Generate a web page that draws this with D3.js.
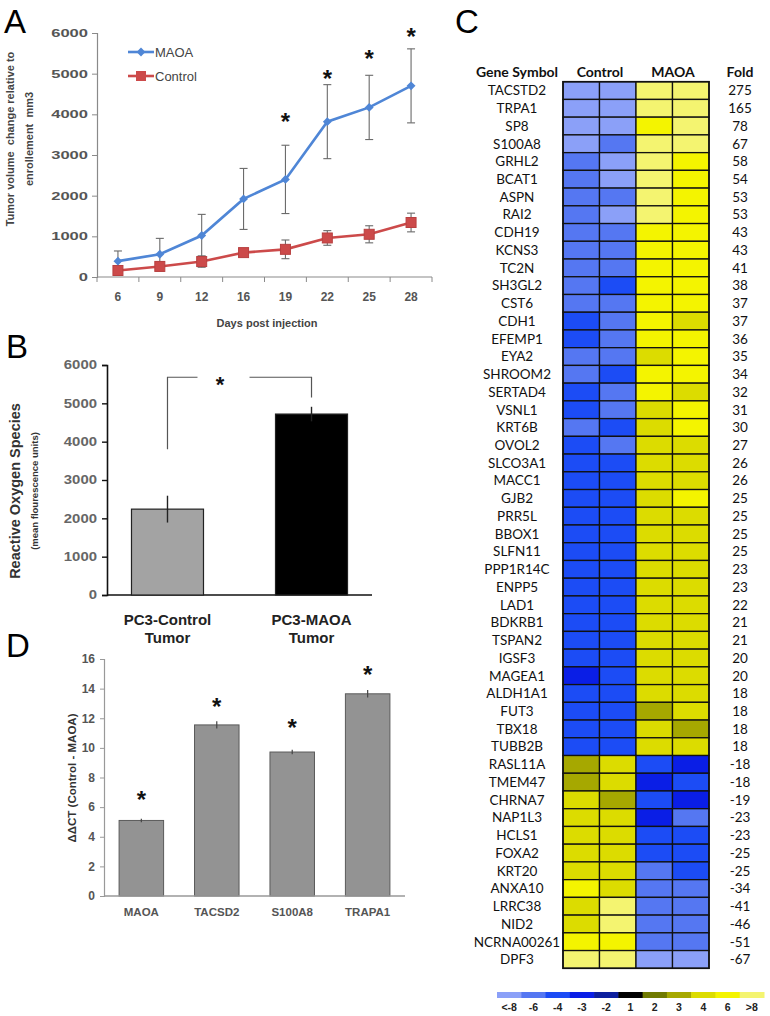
<!DOCTYPE html>
<html><head><meta charset="utf-8">
<script src="https://cdn.jsdelivr.net/npm/d3@7"></script>
<style>
body{margin:0;background:#fff;}
svg{display:block;}
</style></head>
<body>
<svg id="fig" width="770" height="1016"></svg>
<script>
// ---------- Panel A data ----------
const days = ["6","9","12","16","19","22","25","28"];
const maoaVol = [390,560,1020,1920,2400,3820,4170,4700];
const maoaErr = [250,390,520,750,840,910,790,910];
const ctrlVol = [160,260,380,600,680,960,1050,1340];
const ctrlErr = [90,110,140,90,230,180,210,230];
const starDaysA = ["19","22","25","28"];
const starValsA = [3950,5000,5500,6020];
const yTicksA = [0,1000,2000,3000,4000,5000,6000];

// ---------- Panel B data ----------
const rosGroups = ["PC3-Control","PC3-MAOA"];
const rosVals = [2240,4720];
const rosErr = [350,190];
const yTicksB = [0,1000,2000,3000,4000,5000,6000];

// ---------- Panel D data ----------
const qGenes = ["MAOA","TACSD2","S100A8","TRAPA1"];
const ddct = [5.1,11.55,9.72,13.65];
const ddctErr = [0.12,0.25,0.15,0.25];
const starValsD = [6.8,13.1,11.7,15.3];
const yTicksD = [0,2,4,6,8,10,12,14,16];

// ---------- Panel C data ----------
const genes = ["TACSTD2","TRPA1","SP8","S100A8","GRHL2","BCAT1","ASPN","RAI2","CDH19","KCNS3",
"TC2N","SH3GL2","CST6","CDH1","EFEMP1","EYA2","SHROOM2","SERTAD4","VSNL1","KRT6B",
"OVOL2","SLCO3A1","MACC1","GJB2","PRR5L","BBOX1","SLFN11","PPP1R14C","ENPP5","LAD1",
"BDKRB1","TSPAN2","IGSF3","MAGEA1","ALDH1A1","FUT3","TBX18","TUBB2B",
"RASL11A","TMEM47","CHRNA7","NAP1L3","HCLS1","FOXA2","KRT20","ANXA10","LRRC38","NID2","NCRNA00261","DPF3"];
const folds = [275,165,78,67,58,54,53,53,43,43,41,38,37,37,36,35,34,32,31,30,27,26,26,25,25,25,25,23,23,22,21,21,20,20,18,18,18,18,
-18,-18,-19,-23,-23,-25,-25,-34,-41,-46,-51,-67];
const control1 = [-8,-8,-8,-8,-6,-6,-6,-6,-6,-6, -6,-6,-6,-4,-4,-6,-6,-4,-4,-6, -4,-4,-4,-4,-4,-4,-4,-4,-4,-4, -4,-4,-4,-3,-4,-4,-4,-4, 3,3,4,4,4,4,4,6,4,4,6,8];
const control2 = [-8,-8,-8,-6,-8,-8,-6,-8,-6,-6, -6,-4,-6,-6,-6,-6,-4,-6,-6,-4, -6,-4,-4,-4,-4,-4,-4,-4,-4,-4, -4,-4,-4,-4,-4,-4,-4,-4, 4,4,3,4,4,4,4,4,8,8,6,8];
const maoa1 = [8,8,6,8,8,8,8,8,6,6, 6,6,6,6,6,4,6,6,4,4, 4,4,4,4,4,4,4,4,4,4, 4,4,4,4,4,3,4,4, -4,-3,-4,-3,-4,-4,-6,-6,-6,-6,-6,-8];
const maoa2 = [8,8,8,8,6,6,6,6,6,6, 6,6,6,4,6,6,6,4,6,6, 4,4,4,6,4,4,4,4,4,4, 4,4,4,4,4,4,3,4, -3,-4,-3,-6,-4,-4,-4,-6,-6,-6,-6,-8];
const sampleCols = ["Control 1","Control 2","MAOA 1","MAOA 2"];
const levelValues = [-8,-6,-4,-3,-2,1,2,3,4,6,8];
const levelLabels = ["<-8","-6","-4","-3","-2","1","2","3","4","6",">8"];
const levelColors = ["#8ba0f8","#5577f2","#1c4cf5","#0a1ee6","#0d1f9e","#000000","#707a00","#a6a800","#dcdc00","#f4f400","#f4f470"];

const svg = d3.select("#fig");
const AR = "Liberation Sans, Arial, sans-serif";
const CAL = "Lato, Carlito, sans-serif";

function panelLabel(t,x,y){
  svg.append("text").attr("x",x).attr("y",y).attr("font-family",AR).attr("font-size",33).attr("fill","#000").text(t);
}
function star(g,x,y,size){
  // y is the intended visual centre
  g.append("text").attr("x",x).attr("y",y+size*0.55).attr("text-anchor","middle")
   .attr("font-family",AR).attr("font-size",size).attr("font-weight","bold").attr("fill","#111").text("*");
}

// ================= Panel A =================
panelLabel("A",4,33);
const gA = svg.append("g");
const xA = d3.scaleBand().domain(days).range([97,432]);
const yA = d3.scaleLinear().domain([0,6000]).range([277,33]);
const axCol = "#8a8a8a";
// y axis
const yAxA = gA.append("g").attr("transform","translate(97,0)").call(d3.axisLeft(yA).tickValues(yTicksA).tickSize(5).tickPadding(4).tickFormat(d3.format("d")));
yAxA.select(".domain").attr("stroke",axCol).attr("stroke-width",1.2);
yAxA.selectAll(".tick line").attr("stroke",axCol);
yAxA.selectAll(".tick text").attr("font-family",AR).attr("font-size",11).attr("font-weight","bold").attr("fill","#555")
  .attr("textLength",d=>String(d).length*9.2).attr("lengthAdjust","spacingAndGlyphs");
// x axis
gA.append("line").attr("x1",97).attr("x2",432).attr("y1",yA(0)).attr("y2",yA(0)).attr("stroke",axCol).attr("stroke-width",1.2);
gA.selectAll(".xtk").data(days.concat(["end"])).join("line")
  .attr("x1",d=>d==="end"?432:xA(d)).attr("x2",d=>d==="end"?432:xA(d))
  .attr("y1",yA(0)).attr("y2",yA(0)+5).attr("stroke",axCol);
gA.selectAll(".xlab").data(days).join("text")
  .attr("x",d=>xA(d)+xA.bandwidth()/2).attr("y",301).attr("text-anchor","middle")
  .attr("font-family",AR).attr("font-size",12).attr("font-weight","bold").attr("fill","#555").text(d=>d);
gA.append("text").attr("x",267).attr("y",327).attr("text-anchor","middle").attr("font-family",AR)
  .attr("font-size",11).attr("font-weight","bold").attr("fill","#444").text("Days post injection");
// y title
const tA = gA.append("text").attr("transform","translate(14,139) rotate(-90)").attr("text-anchor","middle")
  .attr("font-family",AR).attr("font-size",11).attr("font-weight","bold").attr("fill","#444");
tA.append("tspan").attr("x",0).attr("y",0).attr("xml:space","preserve").text("Tumor volume  change relative to");
tA.append("tspan").attr("x",0).attr("y",19).attr("xml:space","preserve").text("enrollement  mm3");
const cx = d=>xA(d)+xA.bandwidth()/2;
// error bars
function errBars(vals,errs,col){
  days.forEach((d,i)=>{
    const x=cx(d), y1=yA(vals[i]+errs[i]), y2=yA(vals[i]-errs[i]);
    gA.append("line").attr("x1",x).attr("x2",x).attr("y1",y1).attr("y2",y2).attr("stroke",col).attr("stroke-width",1.1);
    [y1,y2].forEach(y=>gA.append("line").attr("x1",x-4).attr("x2",x+4).attr("y1",y).attr("y2",y).attr("stroke",col).attr("stroke-width",1.1));
  });
}
errBars(maoaVol,maoaErr,"#6a6a6a");
errBars(ctrlVol,ctrlErr,"#6a6a6a");
const blue="#4f86d6", red="#cc4a4a";
const line = d3.line().x((v,i)=>cx(days[i])).y(v=>yA(v));
gA.append("path").attr("d",line(ctrlVol)).attr("fill","none").attr("stroke",red).attr("stroke-width",2.6);
gA.append("path").attr("d",line(maoaVol)).attr("fill","none").attr("stroke",blue).attr("stroke-width",2.6);
gA.selectAll(".sq").data(ctrlVol).join("rect").attr("x",(v,i)=>cx(days[i])-5).attr("y",v=>yA(v)-5)
  .attr("width",10).attr("height",10).attr("fill",red).attr("stroke","#b84040");
gA.selectAll(".dm").data(maoaVol).join("path").attr("d",d3.symbol(d3.symbolDiamond2,50)())
  .attr("transform",(v,i)=>`translate(${cx(days[i])},${yA(v)})`).attr("fill",blue);
starDaysA.forEach((d,i)=>star(gA,cx(d),yA(starValsA[i]),24));
// legend
gA.append("line").attr("x1",128).attr("x2",154).attr("y1",52).attr("y2",52).attr("stroke",blue).attr("stroke-width",2.6);
gA.append("path").attr("d",d3.symbol(d3.symbolDiamond2,50)()).attr("transform","translate(141,52)").attr("fill",blue);
gA.append("text").attr("x",155).attr("y",57).attr("font-family",AR).attr("font-size",13).attr("fill","#444").text("MAOA");
gA.append("line").attr("x1",128).attr("x2",154).attr("y1",76).attr("y2",76).attr("stroke",red).attr("stroke-width",2.6);
gA.append("rect").attr("x",136).attr("y",71).attr("width",10).attr("height",10).attr("fill",red);
gA.append("text").attr("x",155).attr("y",81).attr("font-family",AR).attr("font-size",13).attr("fill","#444").text("Control");

// ================= Panel B =================
panelLabel("B",6,358);
const gB = svg.append("g");
const yB = d3.scaleLinear().domain([0,6000]).range([595,365]);
const xB = d3.scaleBand().domain(rosGroups).range([107,372]).paddingInner(0.5).paddingOuter(0.17);
const yAxB = gB.append("g").attr("transform","translate(107,0)").call(d3.axisLeft(yB).tickValues(yTicksB).tickSize(5).tickPadding(5).tickFormat(d3.format("d")));
yAxB.select(".domain").attr("stroke","#111").attr("stroke-width",1.6);
yAxB.selectAll(".tick line").attr("stroke","#111").attr("stroke-width",1.4);
yAxB.selectAll(".tick text").attr("font-family",AR).attr("font-size",12).attr("font-weight","bold").attr("fill","#666")
  .attr("textLength",d=>String(d).length*8.3).attr("lengthAdjust","spacingAndGlyphs");
gB.append("line").attr("x1",107).attr("x2",372).attr("y1",yB(0)).attr("y2",yB(0)).attr("stroke","#111").attr("stroke-width",1.6);
const barFillB = ["#a3a3a3","#000"];
gB.selectAll(".bb").data(rosVals).join("rect")
  .attr("x",(v,i)=>xB(rosGroups[i])).attr("width",xB.bandwidth())
  .attr("y",v=>yB(v)).attr("height",v=>yB(0)-yB(v))
  .attr("fill",(v,i)=>barFillB[i]).attr("stroke","#222").attr("stroke-width",1.2);
rosVals.forEach((v,i)=>{
  const x = xB(rosGroups[i])+xB.bandwidth()/2;
  gB.append("line").attr("x1",x).attr("x2",x).attr("y1",yB(v+rosErr[i])).attr("y2",yB(v-rosErr[i]))
    .attr("stroke","#222").attr("stroke-width",1.4);
});
// significance bracket
const bxL = xB(rosGroups[0])+xB.bandwidth()/2, bxR = xB(rosGroups[1])+xB.bandwidth()/2;
const bTop = yB(5680);
gB.append("path").attr("d",`M${bxL},${yB(3800)} V${bTop} H${bxL+30}`).attr("fill","none").attr("stroke","#555").attr("stroke-width",1.2);
gB.append("path").attr("d",`M${bxR-62},${bTop} H${bxR} V${yB(5150)}`).attr("fill","none").attr("stroke","#555").attr("stroke-width",1.2);
star(gB,220,bTop+3,22);
rosGroups.forEach(g=>{
  const x = xB(g)+xB.bandwidth()/2;
  const t = gB.append("text").attr("x",x).attr("y",625).attr("text-anchor","middle").attr("font-family",AR)
    .attr("font-size",15).attr("font-weight","bold").attr("fill","#222");
  t.append("tspan").attr("x",x).attr("y",625).text(g);
  t.append("tspan").attr("x",x).attr("y",643).text("Tumor");
});
const tB = gB.append("text").attr("transform","translate(20,491) rotate(-90)").attr("text-anchor","middle").attr("font-family",AR).attr("font-weight","bold").attr("fill","#333");
tB.append("tspan").attr("x",0).attr("y",0).attr("font-size",14.5).text("Reactive Oxygen Species");
tB.append("tspan").attr("x",0).attr("y",18).attr("font-size",9.5).text("(mean flourescence units)");

// ================= Panel D =================
panelLabel("D",6,657);
const gD = svg.append("g");
const yD = d3.scaleLinear().domain([0,16]).range([896,659]);
const xD = d3.scaleBand().domain(qGenes).range([104,405]).paddingInner(0.41).paddingOuter(0.2);
const yAxD = gD.append("g").attr("transform","translate(104,0)").call(d3.axisLeft(yD).tickValues(yTicksD).tickSize(4).tickPadding(5));
yAxD.select(".domain").attr("stroke","#999").attr("stroke-width",1.2);
yAxD.selectAll(".tick line").attr("stroke","#999");
yAxD.selectAll(".tick text").attr("font-family",AR).attr("font-size",12).attr("font-weight","bold").attr("fill","#555");
gD.selectAll(".bd").data(ddct).join("rect")
  .attr("x",(v,i)=>xD(qGenes[i])).attr("width",xD.bandwidth())
  .attr("y",v=>yD(v)).attr("height",v=>yD(0)-yD(v))
  .attr("fill","#939393").attr("stroke","#5a5a5a").attr("stroke-width",1);
ddct.forEach((v,i)=>{
  const x = xD(qGenes[i])+xD.bandwidth()/2;
  gD.append("line").attr("x1",x).attr("x2",x).attr("y1",yD(v+ddctErr[i])).attr("y2",yD(v-ddctErr[i])).attr("stroke","#444").attr("stroke-width",1.2);
  star(gD,x,yD(starValsD[i]),24);
});
gD.append("line").attr("x1",104).attr("x2",405).attr("y1",yD(0)).attr("y2",yD(0)).attr("stroke","#999").attr("stroke-width",1.4);
gD.selectAll(".xl").data(qGenes).join("text").attr("x",d=>xD(d)+xD.bandwidth()/2).attr("y",916)
  .attr("text-anchor","middle").attr("font-family",AR).attr("font-size",11.5).attr("font-weight","bold").attr("fill","#555").text(d=>d);
gD.append("text").attr("transform","translate(76,778) rotate(-90)").attr("text-anchor","middle").attr("font-family",AR)
  .attr("font-size",11.5).attr("font-weight","bold").attr("fill","#333").text("ΔΔCT (Control - MAOA)");

// ================= Panel C =================
panelLabel("C",455,33);
const gC = svg.append("g");
const xC = d3.scaleBand().domain(sampleCols).range([563,709]);
const yC = d3.scaleBand().domain(genes).range([81.7,968.3]);
const colC = d3.scaleOrdinal().domain(levelValues).range(levelColors);
const cols = [control1,control2,maoa1,maoa2];
const cells = [];
genes.forEach((g,r)=>cols.forEach((arr,c)=>cells.push({g,s:sampleCols[c],v:arr[r]})));
gC.selectAll(".cell").data(cells).join("rect")
  .attr("x",d=>xC(d.s)).attr("y",d=>yC(d.g)).attr("width",xC.bandwidth()).attr("height",yC.bandwidth())
  .attr("fill",d=>colC(d.v)).attr("stroke","#111").attr("stroke-width",1.3);
gC.append("rect").attr("x",563).attr("y",81.7).attr("width",146).attr("height",968.3-81.7).attr("fill","none").attr("stroke","#111").attr("stroke-width",1.6);
gC.selectAll(".gn").data(genes).join("text").attr("x",517).attr("y",d=>yC(d)+yC.bandwidth()/2+4.8)
  .attr("text-anchor","middle").attr("font-family",CAL).attr("font-size",13.5).attr("fill","#111").text(d=>d);
gC.selectAll(".fd").data(folds).join("text").attr("x",740).attr("y",(d,i)=>yC(genes[i])+yC.bandwidth()/2+4.8)
  .attr("text-anchor","middle").attr("font-family",CAL).attr("font-size",13.5).attr("fill","#111").text(d=>d);
const hdr = [["Gene Symbol",517],["Control",600],["MAOA",673],["Fold",740]];
gC.selectAll(".hd").data(hdr).join("text").attr("x",d=>d[1]).attr("y",77).attr("text-anchor","middle")
  .attr("font-family",CAL).attr("font-size",14).attr("font-weight","bold").attr("fill","#111").text(d=>d[0]);
// colour legend
const xL = d3.scaleBand().domain(levelLabels).range([497,764]);
gC.selectAll(".lg").data(levelLabels).join("rect").attr("x",d=>xL(d)).attr("y",992).attr("width",xL.bandwidth()+0.5).attr("height",6)
  .attr("fill",(d,i)=>levelColors[i]);
gC.selectAll(".ll").data(levelLabels).join("text").attr("x",d=>xL(d)+xL.bandwidth()/2).attr("y",1011).attr("text-anchor","middle")
  .attr("font-family",AR).attr("font-size",10.5).attr("font-weight","bold").attr("fill","#222").text(d=>d);
</script>
</body></html>
